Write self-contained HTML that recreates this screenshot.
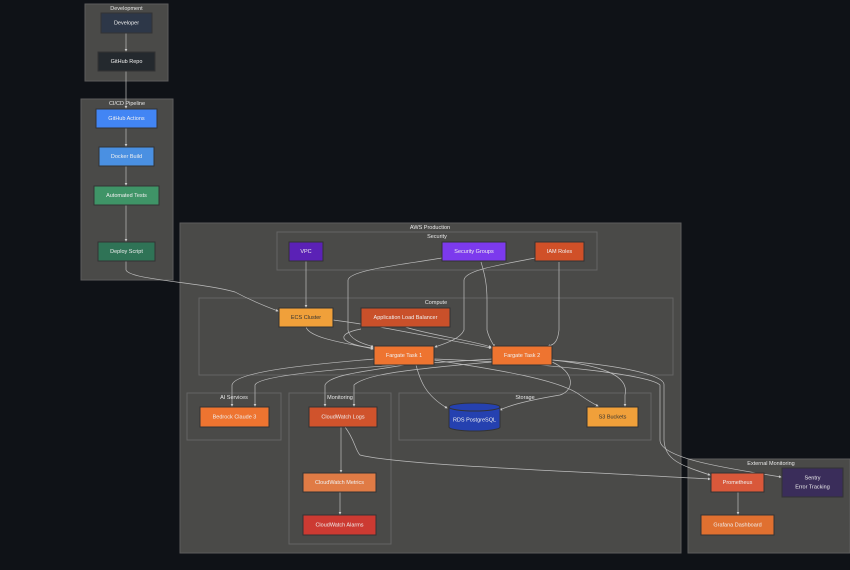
<!DOCTYPE html>
<html><head><meta charset="utf-8"><style>
html,body{margin:0;padding:0;background:#0f1217;}
svg{display:block;font-family:"Liberation Sans",sans-serif;}
.cl{fill:#4a4a48;stroke:#5c5c5c;stroke-width:1}
.sc{fill:none;stroke:#646464;stroke-width:1}
.n{stroke:#333;stroke-width:1}
.t{fill:#f0f0f0;font-size:5.5px;text-anchor:middle;dominant-baseline:middle}
.ct{fill:#e8e8e8;font-size:5.5px;text-anchor:middle}
.e{fill:none;stroke:#bdbdbd;stroke-width:0.7}
</style></head><body>
<svg width="850" height="570" viewBox="0 0 850 570">
<defs><marker id="a" markerWidth="4" markerHeight="4" refX="3" refY="2" orient="auto"><path d="M0,0L4,2L0,4z" fill="#ccc"/></marker></defs>
<rect x="0" y="0" width="850" height="570" fill="#0f1217"/>
<!-- clusters -->
<rect class="cl" x="85" y="4" width="83" height="77"/><text class="ct" x="126.5" y="10">Development</text>
<rect class="cl" x="81" y="99" width="92" height="181"/><text class="ct" x="127" y="105">CI/CD Pipeline</text>
<rect class="cl" x="180" y="223" width="501" height="330"/><text class="ct" x="430" y="229">AWS Production</text>
<rect class="sc" x="277" y="232" width="320" height="38"/><text class="ct" x="437" y="238">Security</text>
<rect class="sc" x="199" y="298" width="474" height="77"/><text class="ct" x="436" y="304">Compute</text>
<rect class="sc" x="187" y="393" width="94" height="47"/><text class="ct" x="234" y="399">AI Services</text>
<rect class="sc" x="289" y="393" width="102" height="151"/><text class="ct" x="340" y="399">Monitoring</text>
<rect class="sc" x="399" y="393" width="252" height="47"/><text class="ct" x="525" y="399">Storage</text>
<rect class="cl" x="688" y="459" width="162" height="94"/><text class="ct" x="771" y="465">External Monitoring</text>
<!-- edges -->
<g class="e" marker-end="url(#a)">
<path d="M126,33V51"/>
<path d="M126,71V108"/>
<path d="M126,128V146"/>
<path d="M126,166V185"/>
<path d="M126,205V241"/>
<path d="M126,261V270C130,280 200,282 235,292C250,300 270,308 278,311"/>
<path d="M306,261V307"/>
<path d="M306,327C310,340 360,345 373,349"/>
<path d="M333,320C380,326 420,335 491,348"/>
<path d="M361,329C330,335 345,345 373,348"/>
<path d="M405,327C430,335 470,340 491,347"/>
<path d="M442,258C400,265 350,270 348,280V330C350,342 370,345 373,347"/>
<path d="M481,262C485,275 487,285 487,300V330C490,342 495,345 493,346"/>
<path d="M535,258C500,265 465,270 464,280V330C460,340 440,345 435,347"/>
<path d="M559,262V330C558,340 555,345 548,346"/>
<path d="M374,359C330,363 235,370 232,385V406"/>
<path d="M492,359C400,365 260,372 255,385V406"/>
<path d="M405,365C360,372 330,375 325,385V406"/>
<path d="M492,362C400,370 365,375 354,385V406"/>
<path d="M416,365C420,380 425,395 447,408"/>
<path d="M552,362C575,372 575,390 560,395C530,400 510,405 500,410"/>
<path d="M434,360C500,370 560,380 580,395C590,402 598,406 598,406"/>
<path d="M552,360C600,365 630,375 625,395V406"/>
<path d="M434,359C550,363 650,375 660,385V440C660,460 740,470 781,477"/>
<path d="M552,360C620,365 665,375 664,385V440C665,460 680,465 710,475"/>
<path d="M341,427V472"/>
<path d="M345,427C355,440 355,450 360,455C400,465 550,470 710,479"/>
<path d="M340,492V514"/>
<path d="M738,492V514"/>
</g>
<!-- nodes -->
<rect class="n" x="101" y="13" width="51" height="20" fill="#2d3748"/><text class="t" x="126.5" y="23">Developer</text>
<rect class="n" x="98" y="52" width="57" height="19" fill="#24292e"/><text class="t" x="126.5" y="61.5">GitHub Repo</text>
<rect class="n" x="96" y="109" width="61" height="19" fill="#4285f4"/><text class="t" x="126.5" y="118.5">GitHub Actions</text>
<rect class="n" x="99" y="147" width="55" height="19" fill="#4a90e2"/><text class="t" x="126.5" y="156.5">Docker Build</text>
<rect class="n" x="94" y="186" width="65" height="19" fill="#3f9467"/><text class="t" x="126.5" y="195.5">Automated Tests</text>
<rect class="n" x="98" y="242" width="57" height="19" fill="#2f7356"/><text class="t" x="126.5" y="251.5">Deploy Script</text>
<rect class="n" x="289" y="242" width="34" height="19" fill="#5b21b6"/><text class="t" x="306" y="251.5">VPC</text>
<rect class="n" x="442" y="242" width="64" height="19" fill="#7c3aed"/><text class="t" x="474" y="251.5">Security Groups</text>
<rect class="n" x="535" y="242" width="49" height="19" fill="#d05028"/><text class="t" x="559.5" y="251.5">IAM Roles</text>
<rect class="n" x="279" y="308" width="54" height="19" fill="#f0a03a"/><text class="t" x="306" y="317.5" style="fill:#333">ECS Cluster</text>
<rect class="n" x="361" y="308" width="89" height="19" fill="#c9502a"/><text class="t" x="405.5" y="317.5">Application Load Balancer</text>
<rect class="n" x="374" y="346" width="60" height="19" fill="#ee7430"/><text class="t" x="404" y="355.5">Fargate Task 1</text>
<rect class="n" x="492" y="346" width="60" height="19" fill="#ee7430"/><text class="t" x="522" y="355.5">Fargate Task 2</text>
<rect class="n" x="200" y="407" width="69" height="20" fill="#ee7430"/><text class="t" x="234.5" y="417">Bedrock Claude 3</text>
<rect class="n" x="309" y="407" width="68" height="20" fill="#d0532c"/><text class="t" x="343" y="417">CloudWatch Logs</text>
<rect class="n" x="303" y="473" width="73" height="19" fill="#e07b45"/><text class="t" x="339.5" y="482.5">CloudWatch Metrics</text>
<rect class="n" x="303" y="515" width="73" height="20" fill="#cc3a32"/><text class="t" x="339.5" y="525">CloudWatch Alarms</text>
<path d="M449,407V427A25.5,4 0 0 0 500,427V407" fill="#2541b0" stroke="#333" stroke-width="1"/>
<ellipse cx="474.5" cy="407" rx="25.5" ry="4" fill="#2541b0" stroke="#333" stroke-width="1"/>
<text class="t" x="474.5" y="420">RDS PostgreSQL</text>
<rect class="n" x="587" y="407" width="51" height="20" fill="#f0a03a"/><text class="t" x="612.5" y="417" style="fill:#333">S3 Buckets</text>
<rect class="n" x="711" y="473" width="53" height="19" fill="#d9583a"/><text class="t" x="737.5" y="482.5">Prometheus</text>
<rect class="n" x="782" y="468" width="61" height="29" fill="#3a2d5a"/><text class="t" x="812.5" y="478">Sentry</text><text class="t" x="812.5" y="487">Error Tracking</text>
<rect class="n" x="701" y="515" width="73" height="20" fill="#e07030"/><text class="t" x="737.5" y="525">Grafana Dashboard</text>
</svg>
</body></html>
